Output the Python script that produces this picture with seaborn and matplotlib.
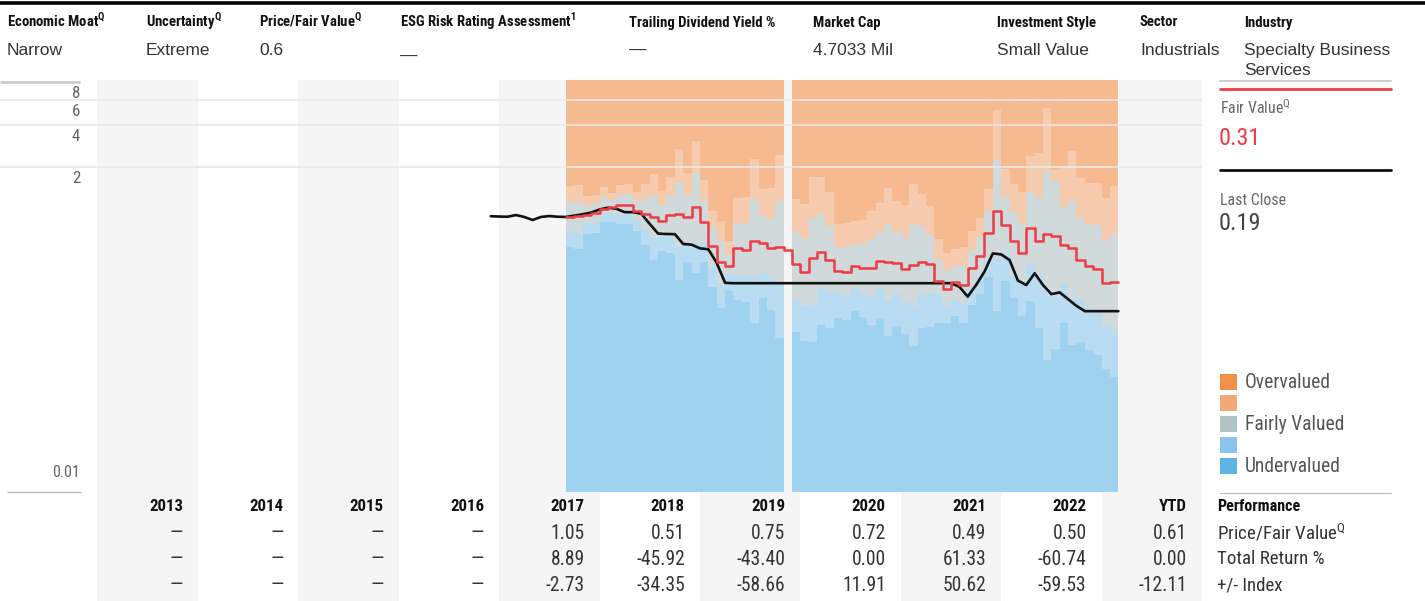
import numpy as np
import pandas as pd
import matplotlib
matplotlib.use('Agg')
import matplotlib.pyplot as plt
import seaborn as sns
from matplotlib import font_manager
from matplotlib.lines import Line2D

# ---- header ----
header_labels = ['Economic Moat', 'Uncertainty', 'Price/Fair Value', 'ESG Risk Rating Assessment',
                 'Trailing Dividend Yield %', 'Market Cap', 'Investment Style', 'Sector', 'Industry']
header_marks = ['Q', 'Q', 'Q', '1', '', '', '', '', '']
header_values = ['Narrow', 'Extreme', '0.6', '—', '—', '4.7033 Mil', 'Small Value', 'Industrials',
                 'Specialty Business\nServices']

# ---- valuation bands (monthly), Nov 2019 missing ----
band_months = pd.period_range('2017-09', '2023-02', freq='M')
nan = np.nan
under_top = [0.542, 0.525, 0.670, 0.681, 0.815, 0.815, 0.789, 0.789, 0.703, 0.560,
             0.438, 0.508, 0.491, 0.316, 0.424, 0.354, 0.424, 0.282, 0.200, 0.264,
             0.228, 0.221, 0.156, 0.236, 0.194, 0.123, nan, 0.135, 0.117, 0.115,
             0.152, 0.144, 0.170, 0.164, 0.190, 0.173, 0.152, 0.170, 0.127, 0.149,
             0.131, 0.108, 0.144, 0.147, 0.157, 0.156, 0.176, 0.157, 0.210, 0.251,
             0.331, 0.189, 0.313, 0.234, 0.176, 0.225, 0.144, 0.086, 0.103, 0.156,
             0.109, 0.115, 0.101, 0.093, 0.074, 0.065]
fair_low = [0.703, 0.681, 0.802, 0.802, 0.928, 0.928, 0.913, 0.928, 0.828, 0.715,
            0.617, 0.648, 0.638, 0.542, 0.569, 0.588, 0.569, 0.391, 0.291, 0.354,
            0.343, 0.337, 0.327, 0.360, 0.321, 0.291, nan, 0.232, 0.207, 0.210,
            0.278, 0.255, 0.251, 0.243, 0.278, 0.255, 0.239, 0.273, 0.228, 0.251,
            0.221, 0.207, 0.247, 0.251, 0.251, 0.204, 0.228, 0.213, 0.284, 0.343,
            0.438, 0.450, 0.488, 0.343, 0.299, 0.404, 0.343, 0.268, 0.241, 0.296,
            0.241, 0.228, 0.196, 0.194, 0.149, 0.141]
fair_high = [1.130, 1.130, 1.075, 1.093, 1.225, 1.167, 1.266, 1.287, 1.148, 1.186,
             1.266, 1.075, 1.245, 1.566, 1.266, 1.814, 1.148, 0.751, 0.597, 0.475,
             0.802, 0.802, 1.186, 0.898, 0.856, 1.148, nan, 0.692, 0.627, 0.870,
             0.928, 0.763, 0.542, 0.542, 0.569, 0.569, 0.617, 0.692, 0.776, 0.692,
             0.638, 0.789, 0.751, 0.659, 0.438, 0.366, 0.399, 0.399, 0.516, 0.641,
             0.975, 2.243, 1.220, 0.962, 0.806, 1.336, 1.220, 1.874, 1.600, 1.046,
             1.167, 0.852, 0.776, 0.776, 0.597, 0.670]
over_low = [1.467, 1.491, 1.245, 1.266, 1.443, 1.308, 1.491, 1.516, 1.330, 1.516,
            1.784, 1.352, 1.699, 2.684, 1.814, 3.058, 1.618, 0.975, 0.828, 0.597,
            1.206, 1.225, 2.280, 1.397, 1.420, 2.433, nan, 1.186, 1.093, 1.699,
            1.699, 1.330, 0.789, 0.802, 0.828, 0.842, 0.975, 1.112, 1.420, 1.148,
            1.075, 1.516, 1.287, 1.058, 0.615, 0.488, 0.525, 0.546, 0.707, 0.872,
            1.390, 5.074, 1.936, 1.516, 1.336, 2.405, 2.519, 5.216, 1.905, 2.034,
            2.597, 1.663, 1.548, 1.548, 1.212, 1.467]
fair_value = [0.885, 0.905, 0.913, 0.943, 1.013, 1.047, 1.069, 1.080, 0.972, 0.928,
              0.885, 0.831, 0.918, 0.925, 0.880, 1.036, 0.818, 0.549, 0.427, 0.398,
              0.530, 0.512, 0.600, 0.575, 0.530, 0.546, 0.516, 0.408, 0.359, 0.454,
              0.502, 0.438, 0.366, 0.362, 0.400, 0.384, 0.384, 0.433, 0.423, 0.416,
              0.378, 0.404, 0.427, 0.411, 0.311, 0.273, 0.305, 0.291, 0.384, 0.470,
              0.676, 0.980, 0.776, 0.597, 0.488, 0.735, 0.600, 0.670, 0.648, 0.560,
              0.537, 0.438, 0.398, 0.378, 0.299, 0.307]

# ---- price (monthly close) ----
price_months = pd.period_range('2016-12', '2023-03', freq='M')
price = [0.896,
         0.891, 0.888, 0.913, 0.885, 0.842, 0.885, 0.898, 0.888, 0.885, 0.905, 0.925, 0.951,
         1.000, 1.029, 1.012, 0.957, 0.957, 0.932, 0.789, 0.674, 0.670, 0.668, 0.569, 0.563,
         0.530, 0.522, 0.418, 0.302, 0.300, 0.300, 0.300, 0.300, 0.300, 0.300, 0.300, 0.300,
         0.300, 0.300, 0.300, 0.300, 0.300, 0.300, 0.300, 0.300, 0.300, 0.300, 0.300, 0.300,
         0.300, 0.300, 0.300, 0.300, 0.300, 0.300, 0.300, 0.283, 0.241, 0.291, 0.362, 0.488,
         0.480, 0.438, 0.313, 0.291, 0.353, 0.291, 0.251, 0.258, 0.231, 0.207, 0.190, 0.190,
         0.190, 0.190, 0.190]

# ---- performance table ----
table_years = ['2013', '2014', '2015', '2016', '2017', '2018', '2019', '2020', '2021', '2022', 'YTD']
pfv_row = ['—', '—', '—', '—', '1.05', '0.51', '0.75', '0.72', '0.49', '0.50', '0.61']
total_return_row = ['—', '—', '—', '—', '8.89', '-45.92', '-43.40', '0.00', '61.33', '-60.74', '0.00']
index_row = ['—', '—', '—', '—', '-2.73', '-34.35', '-58.66', '11.91', '50.62', '-59.53', '-12.11']
row_labels = ['Price/Fair Value$^{\\mathregular{Q}}$', 'Total Return %', '+/- Index']

ytick_vals = [8, 6, 4, 2]
legend_labels = ['Overvalued', '', 'Fairly Valued', '', 'Undervalued']
legend_colors = ['#f0904a', '#f2a877', '#b3c3c3', '#8bc4ea', '#5db4e5']
band_colors = ['#9ed2ef', '#b9dcf2', '#d1dada', '#f7cbad', '#f5ba8f']  # bottom -> top

fair_value_text = '0.31'
last_close_text = '0.19'

# ---- fonts: look for a condensed face, else fall back to Liberation Sans ----
sns.set_style('white')
ttf = font_manager.fontManager.ttflist
names = {f.name for f in ttf}
COND, STRETCH, SCALE = 'Liberation Sans', 'normal', 0.83
narrow_stretch = ('condensed', 'semi-condensed', 'extra-condensed', 'ultra-condensed')
for cand, sc in [('Liberation Sans Narrow', 1.0), ('Roboto Condensed', 0.97),
                 ('Open Sans Condensed', 1.0), ('Noto Sans Condensed', 0.95),
                 ('DejaVu Sans Condensed', 0.85), ('Arial Narrow', 1.0)]:
    if cand in names:
        COND, SCALE = cand, sc
        break
else:
    for fam, sc in [('Roboto', 0.97), ('Noto Sans', 0.95), ('Open Sans', 0.95), ('DejaVu Sans', 0.85)]:
        if any(f.name == fam and str(f.stretch) in narrow_stretch for f in ttf):
            COND, STRETCH, SCALE = fam, 'condensed', sc
            break
PLAIN = 'Liberation Sans' if 'Liberation Sans' in names else 'DejaVu Sans'
plt.rcParams['font.family'] = [COND, 'DejaVu Sans']
plt.rcParams['font.stretch'] = STRETCH


def fs(size):
    return size * SCALE


W, H = 1425, 601
fig = plt.figure(figsize=(W / 100, H / 100), dpi=100)


def fx(p):
    return p / W


def fy(p):
    return 1 - p / H


def dec_year(periods):
    return np.array([p.year + (p.month - 1) / 12 for p in periods])


X0, X1 = 2012.029, 2024.0
YEAR_PX = 100.4

ax = fig.add_axes([0, fy(491.5), fx(1202), (491.5 - 80) / H])
ax_t = fig.add_axes([0, 0, fx(1202), fy(491.5)])
for a in (ax, ax_t):
    a.set_xlim(X0, X1)
    a.axis('off')

ax.set_yscale('log')
ax.set_ylim(0.01, 8.28)
ax_t.set_ylim(3.615, -0.596)

# alternating year columns
col_start = 2013 + np.arange(len(table_years))
for i, c in enumerate(col_start):
    if i % 2 == 0:
        for a in (ax, ax_t):
            a.axvspan(c, c + 1, color='#f5f5f5', lw=0, zorder=0)

# valuation bands
t_band = dec_year(band_months)
edges = np.append(t_band, t_band[-1] + 1 / 12)
n = len(t_band)
ut, fl, fh, ol = (np.array(v, dtype=float) for v in (under_top, fair_low, fair_high, over_low))
layers = [(np.full(n, 0.001), ut), (ut, fl), (fl, fh), (fh, ol), (ol, np.full(n, 100.0))]
valid = ~np.isnan(ut)
runs = []
i = 0
while i < n:
    if valid[i]:
        j = i
        while j < n and valid[j]:
            j += 1
        runs.append((i, j))
        i = j
    else:
        i += 1
for (lo, hi), col in zip(layers, band_colors):
    for a0, b0 in runs:
        ax.stairs(hi[a0:b0], edges[a0:b0 + 1], baseline=lo[a0:b0], fill=True,
                  color=col, lw=0, zorder=2)

# grid
ax.hlines([6, 4, 2], X0, X1, color='#e8e8e8', lw=1.2, zorder=3)
ax.hlines(8, X0, X0 + 0.8, color='#cccccc', lw=2.0, zorder=3)
ax.hlines(0.01, X0 + 0.07, X0 + 0.81, color='#bbbbbb', lw=1.0, zorder=3, clip_on=False)
lab_x = X0 + 80 / YEAR_PX
for v in ytick_vals:
    ax.annotate(str(v), (lab_x, v), xytext=(0, -3), textcoords='offset points',
                ha='right', va='top', fontsize=fs(12.5), color='#666666')
ax.annotate('0.01', (lab_x, 0.01), xytext=(0, 8), textcoords='offset points',
            ha='right', va='bottom', fontsize=fs(12), color='#666666')

# lines
price_df = pd.DataFrame({'t': dec_year(price_months), 'price': price})
sns.lineplot(data=price_df, x='t', y='price', ax=ax, color='#111111', lw=1.9,
             zorder=4, legend=False)
fv_df = pd.DataFrame({'t': edges, 'fv': fair_value + [fair_value[-1]]})
sns.lineplot(data=fv_df, x='t', y='fv', ax=ax, color='#ee3b45', lw=1.8,
             drawstyle='steps-post', zorder=5, legend=False)
ax.set_xlim(X0, X1)
ax.set_ylim(0.01, 8.28)

# performance table
col_right = col_start + 1 - 15 / YEAR_PX
rows = [pfv_row, total_return_row, index_row]
for i, yr in enumerate(table_years):
    ax_t.text(col_right[i], 0, yr, ha='right', va='center', fontsize=fs(12.5),
              fontweight='bold', color='#111111')
    for r, row in enumerate(rows, start=1):
        ax_t.text(col_right[i], r, row[i], ha='right', va='center', fontsize=fs(14.5),
                  color='#333333')
rl_x = X1 + 15 / YEAR_PX
ax_t.text(rl_x, 0, 'Performance', ha='left', va='center', fontsize=fs(12),
          fontweight='bold', color='#111111', clip_on=False)
for r, lab in enumerate(row_labels, start=1):
    ax_t.text(rl_x, r, lab, ha='left', va='center', fontsize=fs(14), color='#333333',
              clip_on=False)

# header
fig.add_artist(Line2D([0, 1], [fy(3), fy(3)], transform=fig.transFigure,
                      color='black', lw=2.6))
header_x = [7, 146, 259, 400, 629, 813, 997, 1140, 1244]
for x, lab, mk, val in zip(header_x, header_labels, header_marks, header_values):
    txt = lab + ('$^{\\mathregular{%s}}$' % mk if mk else '')
    fig.text(fx(x), fy(26.5), txt, ha='left', va='baseline', fontsize=fs(11),
             fontweight='bold', color='#111111')
    base = 61 if lab.startswith('ESG') else 55
    for k, line in enumerate(val.split('\n')):
        fig.text(fx(x), fy(base + 20 * k), line, ha='left', va='baseline', fontsize=12.5,
                 family=[PLAIN, 'DejaVu Sans'], fontstretch='normal', color='#333333')

# right panel
for y, c, w in [(81, '#cccccc', 1.4), (89, '#ee3b45', 2.0), (170, '#111111', 2.0),
                (492.7, '#bbbbbb', 0.8)]:
    fig.add_artist(Line2D([fx(1220), fx(1391)], [fy(y), fy(y)], transform=fig.transFigure,
                          color=c, lw=w))
fig.text(fx(1220), fy(114), 'Fair Value$^{\\mathregular{Q}}$', fontsize=fs(11.8),
         color='#666666', va='baseline')
fig.text(fx(1219), fy(145), fair_value_text, fontsize=fs(18), color='#ee3b45', va='baseline')
fig.text(fx(1220), fy(205), 'Last Close', fontsize=fs(11.8), color='#666666', va='baseline')
fig.text(fx(1219), fy(230), last_close_text, fontsize=fs(18), color='#444444', va='baseline')

# legend
ax_l = fig.add_axes([fx(1217), fy(476.5), fx(183), 105 / H])
ax_l.set_xlim(0, 1)
ax_l.set_ylim(len(legend_labels) - 0.5, -0.5)
ax_l.axis('off')
ax_l.scatter(np.full(len(legend_colors), 0.063), np.arange(len(legend_colors)),
             marker='s', s=149, c=legend_colors, lw=0)
for k, lab in enumerate(legend_labels):
    ax_l.text(0.153, k, lab, ha='left', va='center', fontsize=fs(14.5), color='#555555')

fig.savefig('out.png', dpi=100)
